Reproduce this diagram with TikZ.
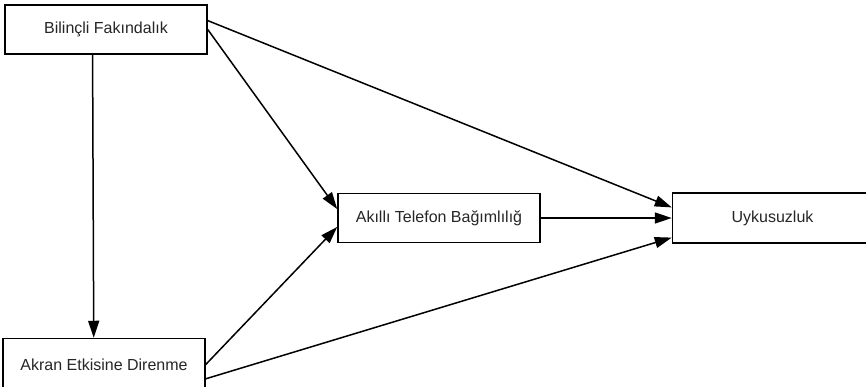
\documentclass[tikz,border=0pt]{standalone}
\usepackage{fontspec}
\setmainfont{Liberation Sans}
\usepackage{tikz}
\usetikzlibrary{arrows.meta, positioning}
\tikzstyle{factor} = [rectangle, minimum width=202pt, minimum height=49pt, inner sep=0pt, text centered, draw=black, line width=1.5pt, fill=white, text=black!85, font=\fontsize{16}{19}\selectfont]
\tikzstyle{arrow} = [line width=1.5pt, -{Triangle[length=17pt, width=11pt]}]

\begin{document}
\begin{tikzpicture}[x=1pt, y=-1pt]
	\useasboundingbox (0,0) rectangle (866,386);

	% Predictors on the left
	\node (bilinci) [factor] at (106,29.5) {Bilinçli Fakındalık};
	\node (akran) [factor, below=283pt of bilinci, xshift=-2pt, minimum height=52pt] {Akran Etkisine Direnme};

	% Mediator and outcome
	\node (akilli) [factor] at (439,218) {Akıllı Telefon Bağımlılığ};
	\node (uyku) [factor, right=131pt of akilli, minimum width=200pt, minimum height=50pt] {Uykusuzluk};

	% Arrows from the predictors
	\draw [arrow] (bilinci.-118) -- (akran.111);
	\draw [arrow] (bilinci.5) -- (uyku.174);
	\draw [arrow] (bilinci.east) -- (akilli.175);
	\draw [arrow] (akran.east) -- (akilli.185);
	\draw [arrow] (akran.-8) -- (uyku.191);

	% Mediator to outcome
	\draw [arrow] (akilli.east) -- (uyku.west);

\end{tikzpicture}
\end{document}
